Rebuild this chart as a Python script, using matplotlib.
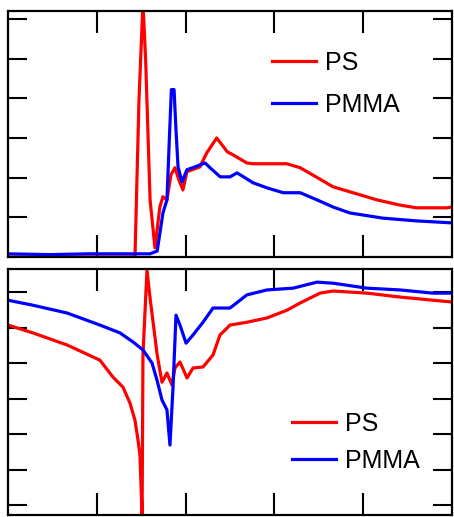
import matplotlib
matplotlib.use('Agg')
import matplotlib.pyplot as plt

plt.rcParams['font.family'] = ['Liberation Sans', 'DejaVu Sans']

# upper panel
ps_top_x = [0.0, 1.43, 1.475, 1.52, 1.55, 1.60, 1.655, 1.71, 1.745, 1.79, 1.835, 1.88,
            1.925, 1.97, 2.015, 2.16, 2.24, 2.35, 2.47, 2.53, 2.69, 2.76, 3.14, 3.29,
            3.43, 3.66, 3.885, 4.155, 4.41, 4.6, 4.94, 5.0]
ps_top_y = [0.0, 0.0, 3.96, 6.4, 4.97, 1.44, 0.23, 1.26, 1.52, 1.44, 2.07, 2.25,
            1.94, 1.69, 2.15, 2.27, 2.63, 3.0, 2.65, 2.58, 2.37, 2.35, 2.35, 2.25,
            2.07, 1.77, 1.62, 1.44, 1.31, 1.24, 1.24, 1.26]

pmma_top_x = [0.0, 0.47, 0.9, 1.6, 1.68, 1.745, 1.79, 1.82, 1.84, 1.87, 1.89, 1.915,
              1.96, 2.015, 2.08, 2.22, 2.275, 2.39, 2.5, 2.58, 2.76, 2.92, 3.1, 3.29,
              3.48, 3.66, 3.85, 4.22, 4.6, 5.0]
pmma_top_y = [0.08, 0.06, 0.08, 0.08, 0.15, 1.11, 1.44, 3.13, 4.22, 4.22, 3.28, 2.27,
              1.89, 2.2, 2.25, 2.37, 2.25, 2.02, 2.02, 2.12, 1.87, 1.74, 1.62, 1.62,
              1.44, 1.26, 1.11, 0.98, 0.91, 0.86]

# lower panel
ps_bot_x = [0.0, 0.28, 0.665, 1.036, 1.18, 1.295, 1.374, 1.43, 1.464, 1.486, 1.51,
            1.52, 1.565, 1.6, 1.68, 1.734, 1.79, 1.847, 1.88, 1.937, 2.016, 2.083,
            2.196, 2.309, 2.387, 2.5, 2.69, 2.916, 3.142, 3.288, 3.514, 3.66, 4.043,
            4.414, 4.786, 5.0]
ps_bot_y = [5.07, 4.85, 4.51, 4.08, 3.61, 3.32, 2.87, 2.39, 1.83, 1.41, -0.3,
            4.23, 6.62, 5.83, 4.23, 3.46, 3.72, 3.38, 3.86, 4.03, 3.58, 3.86,
            3.89, 4.23, 4.79, 5.07, 5.15, 5.27, 5.49, 5.69, 5.97, 6.03, 5.97,
            5.86, 5.77, 5.72]

pmma_bot_x = [0.0, 0.28, 0.665, 1.036, 1.261, 1.41, 1.52, 1.622, 1.678, 1.734, 1.79,
              1.824, 1.858, 1.892, 1.937, 2.005, 2.083, 2.196, 2.309, 2.5, 2.69, 2.916,
              3.21, 3.48, 3.66, 4.043, 4.414, 4.786, 5.0]
pmma_bot_y = [5.77, 5.63, 5.41, 5.07, 4.85, 4.59, 4.37, 4.0, 3.52, 2.96, 2.68,
              1.69, 3.3, 5.35, 5.07, 4.56, 4.79, 5.15, 5.55, 5.55, 5.92, 6.06,
              6.11, 6.28, 6.25, 6.11, 6.06, 5.97, 5.97]

fig = plt.figure(figsize=(4.54, 5.17), dpi=100)
ax1 = fig.add_axes([0.0176, 0.5029, 0.978, 0.4758])
ax2 = fig.add_axes([0.0176, 0.0039, 0.978, 0.4758])

ax1.plot(ps_top_x, ps_top_y, color='#ff0000', lw=2.3, label='PS')
ax1.plot(pmma_top_x, pmma_top_y, color='#0000ff', lw=2.3, label='PMMA')
ax1.set_ylim(0, 6.2)

ax2.plot(ps_bot_x, ps_bot_y, color='#ff0000', lw=2.3, label='PS')
ax2.plot(pmma_bot_x, pmma_bot_y, color='#0000ff', lw=2.3, label='PMMA')
ax2.set_ylim(-0.28, 6.65)

for ax in (ax1, ax2):
    ax.set_xlim(0, 5)
    ax.set_xticks([1, 2, 3, 4])
    ax.set_xticklabels([])
    ax.set_yticklabels([])
    ax.tick_params(axis='x', direction='in', length=16, width=1.5,
                   top=True, bottom=True)
    ax.tick_params(axis='y', direction='in', length=13.5, width=1.5,
                   left=True, right=True)
    for sp in ax.spines.values():
        sp.set_linewidth(1.6)

ax1.set_yticks([1, 2, 3, 4, 5, 6])
ax2.set_yticks([0, 1, 2, 3, 4, 5, 6])

leg_kw = dict(frameon=False, fontsize=18, handlelength=1.75, handletextpad=0.35,
              borderaxespad=0, borderpad=0, loc='upper left')
ax1.legend(bbox_to_anchor=(0.595, 0.837), labelspacing=0.7, **leg_kw)
ax2.legend(bbox_to_anchor=(0.64, 0.418), labelspacing=0.5, **leg_kw)

fig.savefig('out.png', dpi=100)
